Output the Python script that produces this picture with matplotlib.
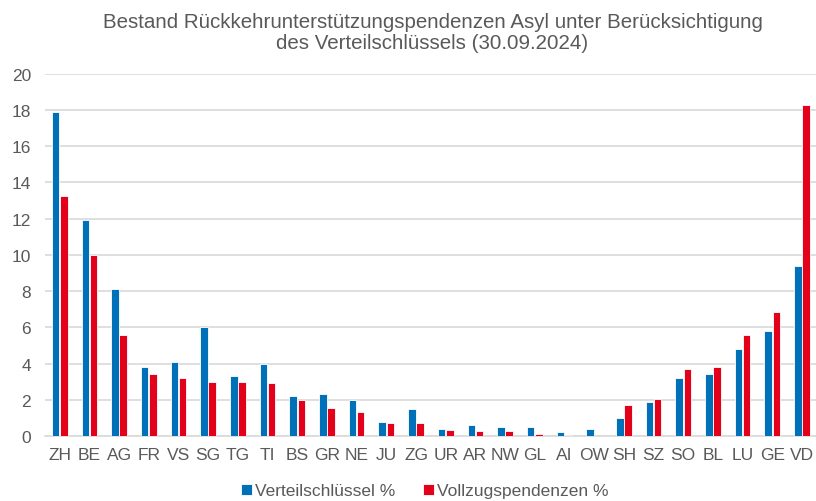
import matplotlib
matplotlib.use("Agg")
import matplotlib.pyplot as plt
import numpy as np

plt.rcParams['font.family'] = ['Liberation Sans', 'DejaVu Sans']

cantons = ["ZH", "BE", "AG", "FR", "VS", "SG", "TG", "TI", "BS", "GR", "NE", "JU", "ZG",
           "UR", "AR", "NW", "GL", "AI", "OW", "SH", "SZ", "SO", "BL", "LU", "GE", "VD"]
verteil = [17.9, 11.9, 8.1, 3.8, 4.1, 6.0, 3.3, 4.0, 2.2, 2.3, 2.0, 0.8, 1.5,
           0.4, 0.6, 0.5, 0.5, 0.2, 0.4, 1.0, 1.9, 3.2, 3.4, 4.8, 5.8, 9.4]
vollzug = [13.25, 10.0, 5.6, 3.4, 3.2, 3.0, 3.0, 2.95, 2.0, 1.55, 1.35, 0.72, 0.7,
           0.35, 0.28, 0.25, 0.1, 0.06, 0.02, 1.7, 2.05, 3.7, 3.8, 5.6, 6.82, 18.3]

blue = "#0070B8"
red = "#E2001A"
grey = "#595959"

fig = plt.figure(figsize=(8.16, 5.02), dpi=100)
ax = fig.add_axes([0.055, 0.1295, 0.946, 0.7215])

x = np.arange(len(cantons))
w = 0.255
ax.bar(x - w / 2 - 0.01, verteil, width=w, color=blue, edgecolor="white", linewidth=0.6,
       label="Verteilschlüssel %", zorder=3)
ax.bar(x + w / 2 + 0.01, vollzug, width=w, color=red, edgecolor="white", linewidth=0.6,
       label="Vollzugspendenzen %", zorder=3)

ax.set_xlim(-0.5, len(cantons) - 0.5)
ax.set_ylim(0, 20)
ax.set_yticks(np.arange(0, 21, 2))
ax.set_xticks(x)
ax.set_xticklabels(cantons)
ax.yaxis.grid(True, color="#D9D9D9", linewidth=1.2, zorder=0)
ax.set_axisbelow(True)
for s in ["top", "right", "left"]:
    ax.spines[s].set_visible(False)
ax.spines["bottom"].set_color("#D9D9D9")
ax.spines["bottom"].set_linewidth(1.2)
ax.tick_params(axis="both", length=0, colors=grey, labelsize=12.5)
ax.tick_params(axis="x", pad=8)
ax.tick_params(axis="y", pad=10)

fig.text(0.53, 0.975, "Bestand Rückkehrunterstützungspendenzen Asyl unter Berücksichtigung\n"
         "des Verteilschlüssels (30.09.2024)", ha="center", va="top", fontsize=14.8,
         color=grey, linespacing=1.15)

leg = fig.legend(loc="center", bbox_to_anchor=(0.521, 0.02), ncol=2, frameon=False,
                 fontsize=12.5, handlelength=0.6, handleheight=0.6, handletextpad=0.2,
                 columnspacing=1.6, labelcolor=grey)

fig.savefig("out.png", dpi=100)
